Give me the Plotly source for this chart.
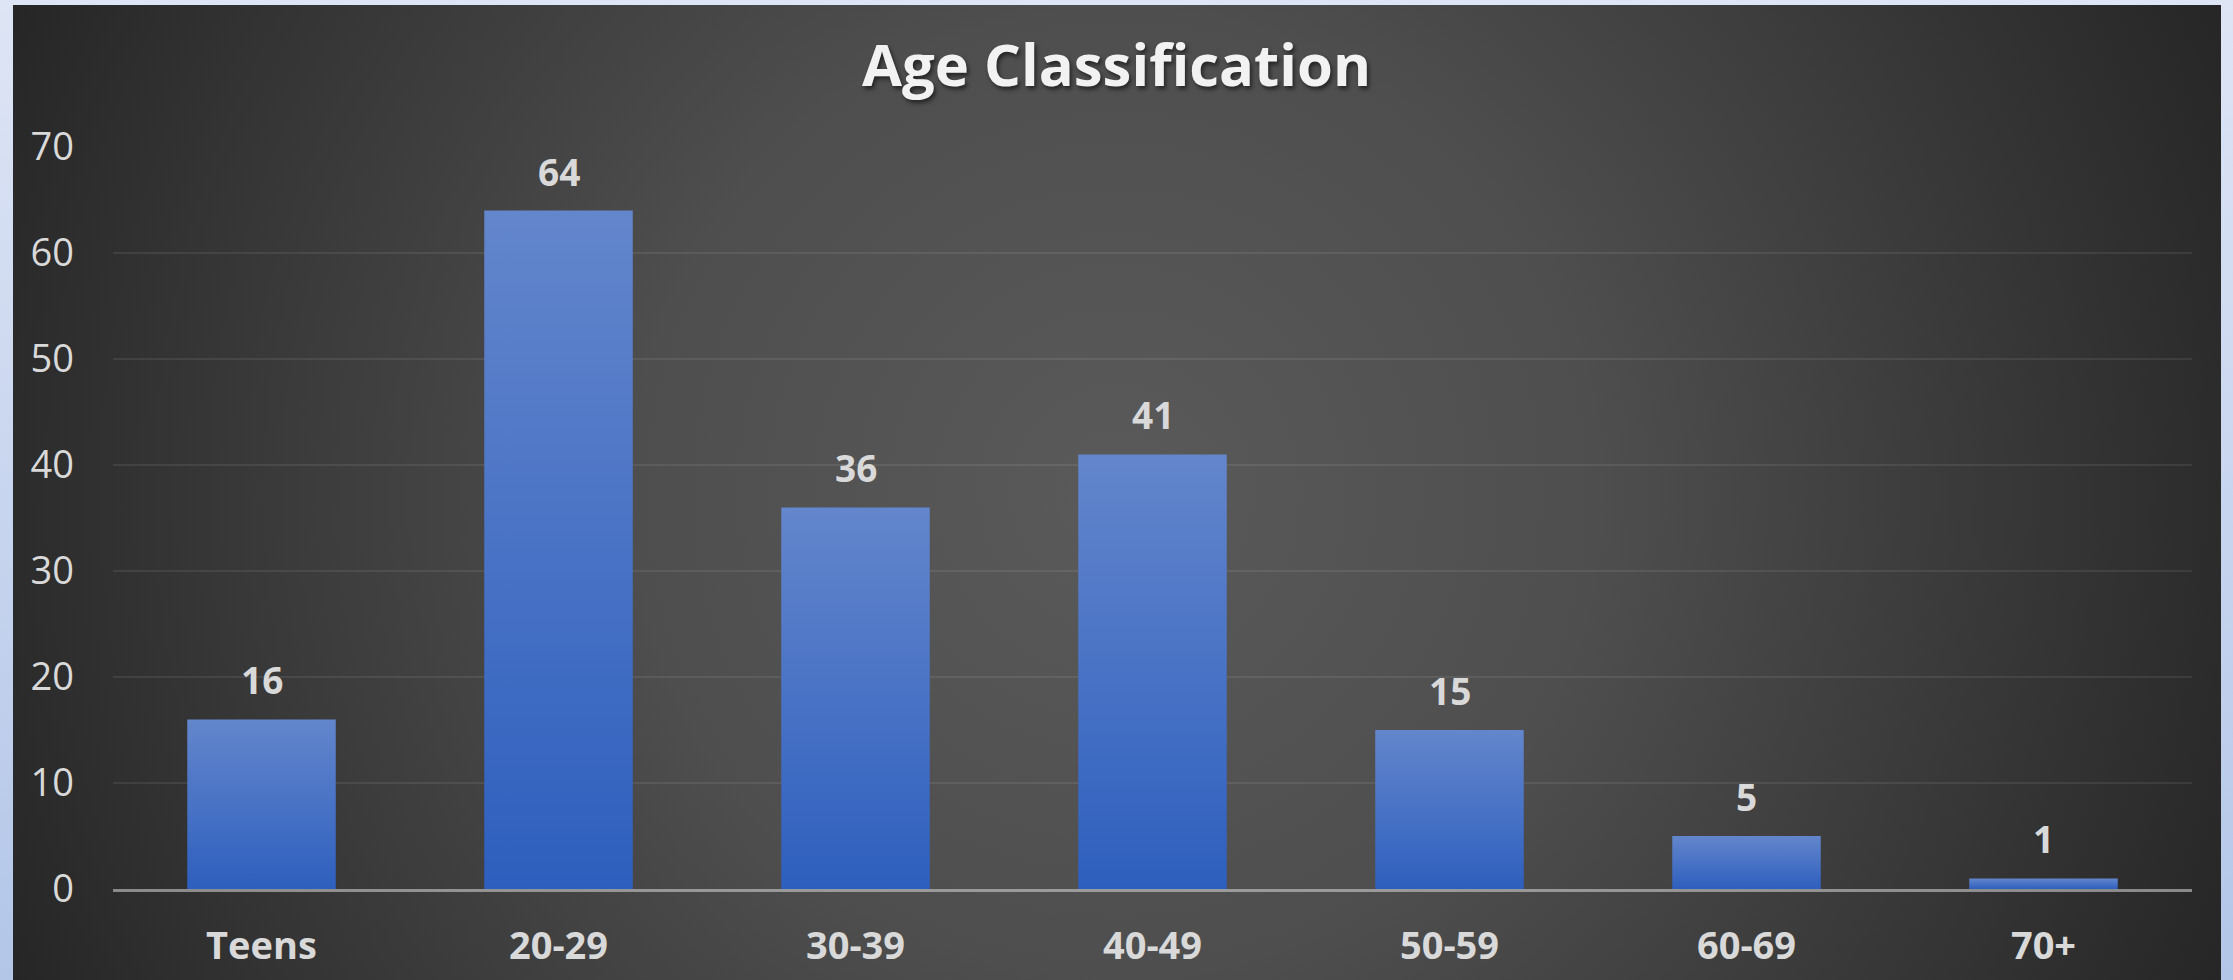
import plotly.graph_objects as go

# ---- data ----
categories = ["Teens", "20-29", "30-39", "40-49", "50-59", "60-69", "70+"]
counts = [16, 64, 36, 41, 15, 5, 1]
y_ticks = [0, 10, 20, 30, 40, 50, 60, 70]

# ---- page geometry (pixels) ----
W, H = 2233, 980
PANEL_X0, PANEL_X1, PANEL_Y_TOP = 13, 2221, 5
PLOT_X0, PLOT_X1 = 113, 2192
PLOT_Y_ZERO, PLOT_Y_TOP = 889, 147
BAR_HALF = 0.25

TEXT_COL = "#d9d9d9"
FONT = "Open Sans"

fig = go.Figure()

# light blue frame behind the dark panel (vertical gradient)
fig.add_trace(go.Scatter(
    x=[0, 1, 1, 0, 0], y=[0, 0, 1, 1, 0],
    xaxis="x", yaxis="y", mode="lines", line=dict(width=0),
    fill="toself",
    fillgradient=dict(type="vertical",
                      colorscale=[[0, "#b3c6e8"], [1, "#dee5f5"]]),
    hoverinfo="skip", showlegend=False,
))

# dark panel with a radial glow from the centre
pw = PANEL_X1 - PANEL_X0
ph = H - PANEL_Y_TOP
cx, cy = pw / 2, ph / 2
R = (cx ** 2 + cy ** 2) ** 0.5
fig.add_trace(go.Scatter(
    x=[cx - R, cx + R, cx + R, cx - R, cx - R],
    y=[cy - R, cy - R, cy + R, cy + R, cy - R],
    xaxis="x2", yaxis="y2", mode="lines", line=dict(width=0),
    fill="toself",
    fillgradient=dict(type="radial",
                      colorscale=[[0, "#5a5a5a"], [0.4, "#4e4e4e"],
                                  [1, "#262626"]]),
    hoverinfo="skip", showlegend=False,
))

# bars, each with its own top-to-bottom gradient
for i, (cat, v) in enumerate(zip(categories, counts)):
    fig.add_trace(go.Scatter(
        x=[i - BAR_HALF, i + BAR_HALF, i + BAR_HALF, i - BAR_HALF, i - BAR_HALF],
        y=[0, 0, v, v, 0],
        xaxis="x3", yaxis="y3", mode="lines", line=dict(width=0),
        fill="toself",
        fillgradient=dict(type="vertical",
                          colorscale=[[0, "#2e5fbe"], [1, "#6386cc"]]),
        name=cat, hoverinfo="skip", showlegend=False,
    ))

# value labels above the bars
annotations = [
    dict(x=i, y=v, xref="x3", yref="y3", text=str(v), showarrow=False,
         yanchor="bottom", yshift=12,
         font=dict(family=FONT, size=37, color=TEXT_COL, weight="bold"))
    for i, v in enumerate(counts)
]

fig.update_layout(
    width=W, height=H,
    margin=dict(l=0, r=0, t=0, b=0, pad=0, autoexpand=False),
    paper_bgcolor="#c9d6ef",
    plot_bgcolor="rgba(0,0,0,0)",
    showlegend=False,
    title=dict(
        text="<b>Age Classification</b>",
        x=0.5, xanchor="center", xref="paper",
        y=1 - 66 / H, yanchor="middle", yref="paper", automargin=False,
        font=dict(family=FONT, size=58, color="#f2f2f2",
                  shadow="2px 3px 4px rgba(0,0,0,0.55)"),
    ),
    xaxis=dict(domain=[0, 1], range=[0, 1], visible=False, fixedrange=True,
               automargin=False),
    yaxis=dict(domain=[0, 1], range=[0, 1], visible=False, fixedrange=True,
               automargin=False),
    xaxis2=dict(domain=[PANEL_X0 / W, PANEL_X1 / W], range=[0, pw],
                anchor="y2", visible=False, fixedrange=True, automargin=False),
    yaxis2=dict(domain=[0, 1 - PANEL_Y_TOP / H], range=[0, ph],
                anchor="x2", visible=False, fixedrange=True, automargin=False),
    xaxis3=dict(
        domain=[PLOT_X0 / W, PLOT_X1 / W], anchor="y3",
        range=[-0.5, len(categories) - 0.5],
        tickmode="array", tickvals=list(range(len(categories))),
        ticktext=[f"<b>{c}</b>" for c in categories],
        tickfont=dict(family=FONT, size=38, color=TEXT_COL),
        showgrid=False, zeroline=False,
        showline=True, linecolor="rgba(217,217,217,0.55)", linewidth=2.5,
        ticks="", ticklabelstandoff=22, fixedrange=True, automargin=False,
    ),
    yaxis3=dict(
        domain=[1 - PLOT_Y_ZERO / H, 1 - PLOT_Y_TOP / H], anchor="x3",
        range=[0, 70], tickmode="array", tickvals=y_ticks,
        tickfont=dict(family=FONT, size=38, color=TEXT_COL),
        showgrid=True, gridcolor="rgba(255,255,255,0.08)", gridwidth=2,
        zeroline=False, showline=False, ticks="",
        ticklabelstandoff=38, fixedrange=True, automargin=False,
    ),
    annotations=annotations,
)

fig.write_html("out.html")
